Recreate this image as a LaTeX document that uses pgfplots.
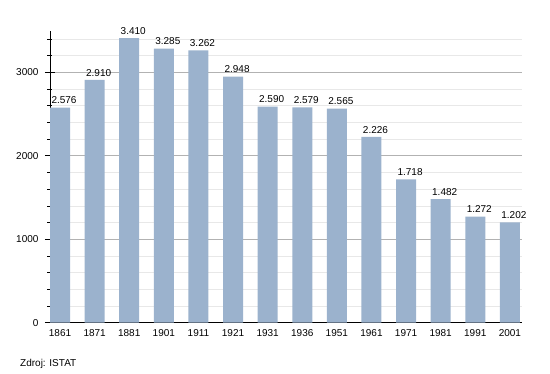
\documentclass[border=0pt]{standalone}
\usepackage{pgfplots}
\pgfplotsset{compat=1.18}
\usepackage{fontspec}
\setmainfont{Liberation Sans}
\definecolor{barblue}{RGB}{155,178,205}
\pgfplotstableread{
x y lab
0 2576 2.576
1 2910 2.910
2 3410 3.410
3 3285 3.285
4 3262 3.262
5 2948 2.948
6 2590 2.590
7 2579 2.579
8 2565 2.565
9 2226 2.226
10 1718 1.718
11 1482 1.482
12 1272 1.272
13 1202 1.202
}\popdata
\begin{document}
\begin{tikzpicture}[x=1pt,y=1pt]
\path[use as bounding box] (0,0) rectangle (550,373);
\begin{axis}[
  at={(50pt,50.3pt)}, anchor=south west,
  scale only axis, width=472pt, height=292.1pt,
  xmin=-0.29, xmax=13.35, ymin=0, ymax=3500,
  axis x line=bottom, axis y line=left,
  axis line style={black, line width=0.8pt, -},
  xtick=data,
  xticklabels={1861,1871,1881,1901,1911,1921,1931,1936,1951,1961,1971,1981,1991,2001},
  x tick style={draw=none},
  xticklabel style={yshift=2pt},
  ytick={0,1000,2000,3000},
  minor ytick={200,400,600,800,1200,1400,1600,1800,2200,2400,2600,2800,3200,3400},
  tick align=center, major tick length=10pt, minor tick length=5pt,
  y tick style={black, line width=0.6pt},
  ymajorgrids, yminorgrids,
  major grid style={gray!60, line width=0.6pt},
  minor grid style={gray!18, line width=0.6pt},
  ticklabel style={font=\fontsize{10}{12}\selectfont},
  yticklabel style={xshift=-3pt},
  /pgf/number format/1000 sep={},
  /pgf/number format/assume math mode=true,
  nodes near coords,
  point meta=explicit symbolic,
  nodes near coords style={font=\fontsize{10}{12}\selectfont, inner sep=1pt, yshift=2.5pt, xshift=4pt},
]
\addplot[ybar, bar width=20pt, fill=barblue, draw=none] table[x=x,y=y,meta=lab]{\popdata};
\end{axis}
\node[anchor=base west, font=\fontsize{10}{12}\selectfont, inner sep=0pt] at (20,7) {Zdroj: ISTAT};
\end{tikzpicture}
\end{document}
